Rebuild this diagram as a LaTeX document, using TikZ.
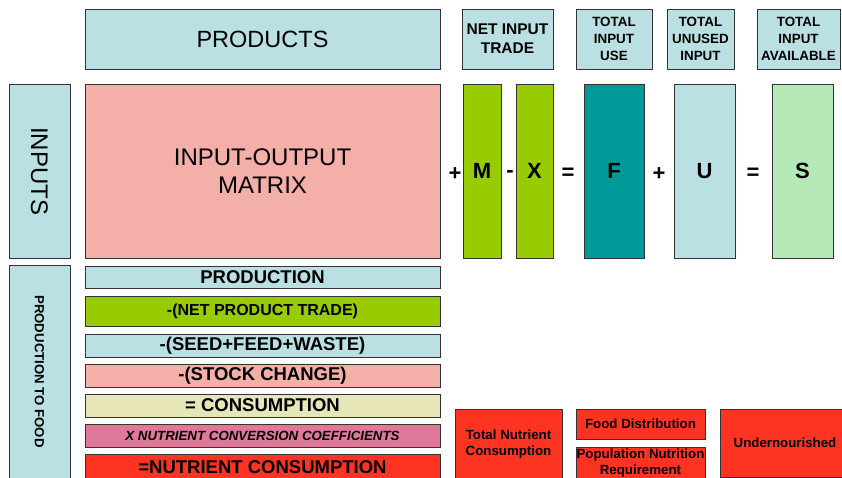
\documentclass[tikz,border=0pt]{standalone}
\usepackage{fontspec}
\setmainfont{Liberation Sans}
\definecolor{lblue}{HTML}{BAE0E3}
\definecolor{salmon}{HTML}{F4AFA8}
\definecolor{lime}{HTML}{99CC00}
\definecolor{teal2}{HTML}{009999}
\definecolor{lgreen}{HTML}{B5EAB8}
\definecolor{pyellow}{HTML}{E6E6B9}
\definecolor{pink2}{HTML}{E0789A}
\definecolor{red2}{HTML}{FF3322}
\tikzset{
  box/.style={draw=black!80, line width=0.8pt, inner sep=0pt, align=center, text=black},
  sz/.style n args={2}{minimum width=#1pt, minimum height=#2pt},
  big/.style={font=\fontsize{24}{28}\selectfont},
  bar/.style={box, sz={355}{#1}, font=\bfseries\fontsize{18.5}{22}\selectfont},
  hdr/.style={box, font=\bfseries\fontsize{13.4}{17}\selectfont},
  letter/.style={box, font=\bfseries\fontsize{22}{24}\selectfont},
  op/.style={inner sep=0pt, font=\bfseries\fontsize{22}{24}\selectfont},
  redbox/.style={box, fill=red2, font=\bfseries\fontsize{13.3}{16}\selectfont},
}
\begin{document}
\begin{tikzpicture}[x=1pt, y=-1pt]
\useasboundingbox (0,0) rectangle (842,477);
\clip (0,0) rectangle (842,477);
% top row
\node[box, font=\fontsize{23.5}{28}\selectfont, fill=lblue, sz={355}{60}] (prod) at (262.5,39) {PRODUCTS};
\node[box, fill=lblue, sz={91}{60}, font=\bfseries\fontsize{15.5}{19}\selectfont] (nit) at (507.5,39) {NET INPUT\\TRADE};
\node[hdr, fill=lblue, sz={76}{60}] (tiu) at (614,39) {TOTAL\\INPUT\\USE};
\node[hdr, fill=lblue, sz={67}{60}] (tui) at (700.5,39) {TOTAL\\UNUSED\\INPUT};
\node[hdr, fill=lblue, sz={83}{60}] (tia) at (798.5,39) {TOTAL\\INPUT\\AVAILABLE};
% middle row
\node[box, fill=lblue, sz={61}{174}] (inputs) at (39.5,171) {};
\node[big, rotate=-90] (inputsl) at (inputs.center) {INPUTS};
\node[box, big, fill=salmon, sz={355}{174}] (iom) at (262.5,171) {INPUT-OUTPUT\\MATRIX};
\node[letter, fill=lime, sz={38}{174}] (m) at (482,171) {M};
\node[letter, fill=lime, sz={37}{174}] (x) at (534.5,171) {X};
\node[letter, fill=teal2, sz={60}{174}] (f) at (614,171) {F};
\node[letter, fill=lblue, sz={61}{174}] (u) at (704.5,171) {U};
\node[letter, fill=lgreen, sz={61}{174}] (s) at (802.5,171) {S};
\node[op] (op1) at (455,174) {+};
\node[op] (op2) at (510,174) {-};
\node[op] (op3) at (568,174) {=};
\node[op] (op4) at (659,174) {+};
\node[op] (op5) at (753,174) {=};
% production to food
\node[box, fill=lblue, sz={61}{213}] (ptf) at (39.5,371.5) {};
\node[rotate=-90, font=\bfseries\fontsize{13.2}{16}\selectfont] (ptfl) at (ptf.center) {PRODUCTION TO FOOD};
\node[bar=22, fill=lblue] (b1) at (262.5,277) {PRODUCTION};
\node[bar=30, fill=lime, font=\bfseries\fontsize{16}{19}\selectfont] (b2) at (262.5,311) {-(NET PRODUCT TRADE)};
\node[bar=23, fill=lblue] (b3) at (262.5,345.5) {-(SEED+FEED+WASTE)};
\node[bar=23, fill=salmon] (b4) at (262.5,375.5) {-(STOCK CHANGE)};
\node[bar=23, fill=pyellow] (b5) at (262.5,405.5) {= CONSUMPTION};
\node[bar=23, fill=pink2, font=\bfseries\itshape\fontsize{13.3}{16}\selectfont] (b6) at (262.5,435.5) {X NUTRIENT CONVERSION COEFFICIENTS};
\node[bar=26, fill=red2] (b7) at (262.5,467) {=NUTRIENT CONSUMPTION};
% bottom right
\node[redbox, sz={107}{70}] (tnc) at (508.5,444) {Total Nutrient\\Consumption};
\node[redbox, sz={129}{30}] (fd) at (640.5,424) {Food Distribution};
\node[redbox, sz={129}{32}] (pnr) at (640.5,463) {Population Nutrition\\Requirement};
\node[redbox, sz={130}{68}] (und) at (785,443) {Undernourished};
\end{tikzpicture}
\end{document}
